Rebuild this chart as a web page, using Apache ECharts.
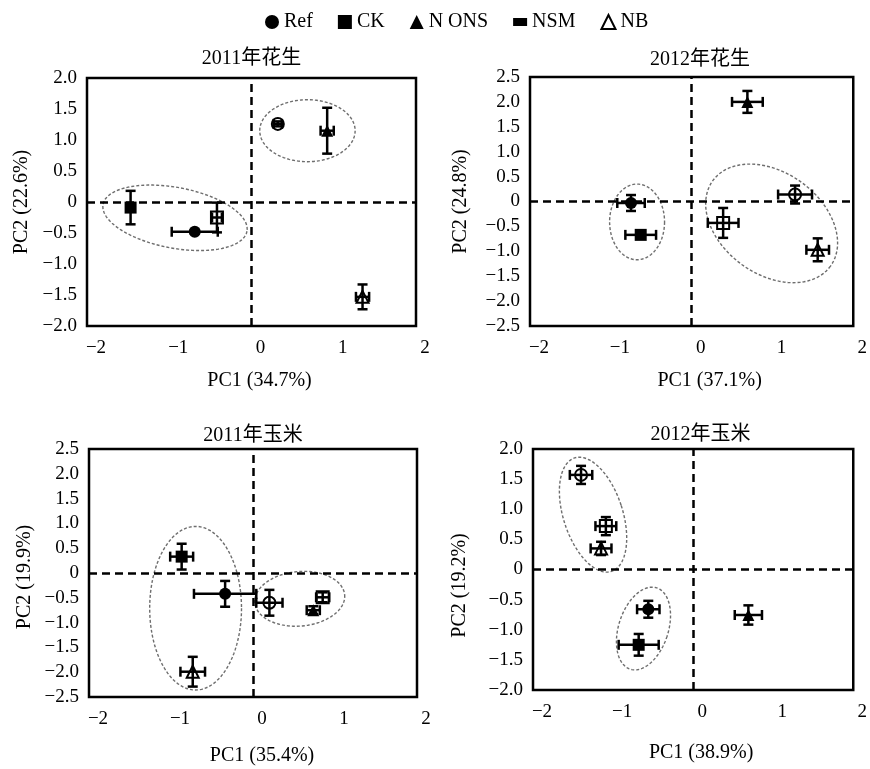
<!DOCTYPE html>
<html>
<head>
<meta charset="utf-8">
<script src="https://cdn.jsdelivr.net/npm/echarts@6/dist/echarts.min.js"></script>
<style>
  html, body { margin: 0; padding: 0; background: #fff; }
  #chart { width: 870px; height: 769px; }
</style>
</head>
<body>
<div id="chart"></div>
<script>
// Treatments, in series order
const treatments = ['Ref', 'CK', 'N ONS', 'NSM', 'NB', 'ONS'];
const legendNames = ['Ref', 'CK', 'N ONS', 'NSM', 'NB'];

// Panel titles and axis names
const panelTitles = ['2011年花生', '2012年花生', '2011年玉米', '2012年玉米'];
const pc1Names = ['PC1 (34.7%)', 'PC1 (37.1%)', 'PC1 (35.4%)', 'PC1 (38.9%)'];
const pc2Names = ['PC2 (22.6%)', 'PC2 (24.8%)', 'PC2 (19.9%)', 'PC2 (19.2%)'];

// Axis ranges
const xTicks = [-2, -1, 0, 1, 2];
const yMins = [-2.0, -2.5, -2.5, -2.0];
const yMaxs = [2.0, 2.5, 2.5, 2.0];

// 2011 peanut: scores (mean) and standard errors, treatment order as above
const peanut2011PC1 = [-0.69, -1.47, 0.92, -0.42, 1.35, 0.32];
const peanut2011PC2 = [-0.48, -0.09, 1.15, -0.25, -1.53, 1.26];
const peanut2011PC1Err = [0.28, 0.04, 0.08, 0.06, 0.08, 0.05];
const peanut2011PC2Err = [0.03, 0.27, 0.37, 0.24, 0.20, 0.04];

// 2012 peanut
const peanut2012PC1 = [-0.75, -0.63, 0.69, 0.39, 1.56, 1.28];
const peanut2012PC2 = [-0.03, -0.67, 2.00, -0.43, -0.97, 0.14];
const peanut2012PC1Err = [0.17, 0.19, 0.19, 0.19, 0.14, 0.21];
const peanut2012PC2Err = [0.16, 0.05, 0.22, 0.30, 0.23, 0.18];

// 2011 maize
const maize2011PC1 = [-0.34, -0.87, 0.735, 0.85, -0.735, 0.20];
const maize2011PC2 = [-0.42, 0.33, -0.75, -0.49, -1.99, -0.60];
const maize2011PC1Err = [0.38, 0.14, 0.08, 0.08, 0.15, 0.16];
const maize2011PC2Err = [0.26, 0.26, 0.08, 0.10, 0.30, 0.26];

// 2012 maize
const maize2012PC1 = [-0.56, -0.68, 0.69, -1.09, -1.15, -1.40];
const maize2012PC2 = [-0.66, -1.25, -0.755, 0.72, 0.35, 1.57];
const maize2012PC1Err = [0.14, 0.25, 0.17, 0.13, 0.13, 0.14];
const maize2012PC2Err = [0.14, 0.18, 0.16, 0.15, 0.11, 0.15];

// Cluster ellipses: [centre PC1, centre PC2, half-width (PC1 units), half-height (PC2 units), tilt in degrees]
const peanut2011Clusters = [[0.68, 1.15, 0.58, 0.50, 0], [-0.93, -0.255, 0.89, 0.49, 10.6]];
const peanut2012Clusters = [[-0.675, -0.41, 0.34, 0.76, 0], [0.99, -0.44, 0.90, 1.02, 36]];
const maize2011Clusters = [[-0.70, -0.71, 0.56, 1.65, 0], [0.57, -0.52, 0.55, 0.55, -5]];
const maize2012Clusters = [[-1.25, 0.91, 0.37, 0.99, -18], [-0.62, -0.98, 0.31, 0.71, 18]];

const panelPC1 = [peanut2011PC1, peanut2012PC1, maize2011PC1, maize2012PC1];
const panelPC2 = [peanut2011PC2, peanut2012PC2, maize2011PC2, maize2012PC2];
const panelPC1Err = [peanut2011PC1Err, peanut2012PC1Err, maize2011PC1Err, maize2012PC1Err];
const panelPC2Err = [peanut2011PC2Err, peanut2012PC2Err, maize2011PC2Err, maize2012PC2Err];
const panelClusters = [peanut2011Clusters, peanut2012Clusters, maize2011Clusters, maize2012Clusters];

// Layout
const grids = [
  { left: 87, top: 78, width: 329, height: 248 },
  { left: 530, top: 77, width: 326, height: 249 },
  { left: 89, top: 449, width: 328, height: 248 },
  { left: 533, top: 449, width: 325, height: 241 }
];
const titleCentreY = [59, 60, 436, 435];
const titleShiftX = [0, 7, 0, 5];
const xNameGaps = [45, 45, 49, 53];
const xNameShift = [8, 18, 9, 8];
const yNameGaps = [55, 59, 54, 63];
const yNameShift = [0, 0, 4, 16];

const FONT = "'Liberation Serif', 'Times New Roman', 'Noto Sans CJK SC', serif";

const markerStyle = {
  'Ref':   { symbol: 'circle',   fill: '#000' },
  'CK':    { symbol: 'rect',     fill: '#000' },
  'N ONS': { symbol: 'triangle', fill: '#000' },
  'NSM':   { symbol: 'rect',     fill: '#fff' },
  'NB':    { symbol: 'triangle', fill: '#fff' },
  'ONS':   { symbol: 'circle',   fill: '#fff' }
};

function fmtMinus(s) { return String(s).replace('-', '\u2212'); }

const chart = echarts.init(document.getElementById('chart'));

const xAxes = [], yAxes = [], series = [], graphics = [];

grids.forEach(function (g, p) {
  xAxes.push({
    type: 'value', gridIndex: p, min: xTicks[0], max: xTicks[xTicks.length - 1], interval: 1,
    axisLine: { show: false }, axisTick: { show: false }, splitLine: { show: false },
    axisLabel: {
      color: '#000', fontSize: 19, fontFamily: FONT, margin: 13,
      padding: [0, 0, 0, 18],
      formatter: function (v) { return fmtMinus(v); }
    },
    name: pc1Names[p], nameLocation: 'middle', nameGap: xNameGaps[p],
    nameTextStyle: { color: '#000', fontSize: 20, fontFamily: FONT, padding: [0, 0, 0, 2 * xNameShift[p]] }
  });
  yAxes.push({
    type: 'value', gridIndex: p, min: yMins[p], max: yMaxs[p], interval: 0.5,
    axisLine: { show: false }, axisTick: { show: false }, splitLine: { show: false },
    axisLabel: {
      color: '#000', fontSize: 19, fontFamily: FONT, margin: 10,
      formatter: function (v) { return v === 0 ? '0' : fmtMinus(v.toFixed(1)); }
    },
    name: pc2Names[p], nameLocation: 'middle', nameGap: yNameGaps[p], nameRotate: 90,
    nameTextStyle: { color: '#000', fontSize: 20, fontFamily: FONT, padding: [0, 2 * yNameShift[p], 0, 0] }
  });

  // Panel title
  graphics.push({
    type: 'text', x: g.left + g.width / 2 + titleShiftX[p], y: titleCentreY[p],
    style: { text: panelTitles[p], fill: '#000', font: '20px ' + FONT, textAlign: 'center', textVerticalAlign: 'middle' }
  });

  // Cluster ellipses
  series.push({
    type: 'custom', xAxisIndex: p, yAxisIndex: p, z: 1, silent: true,
    data: panelClusters[p],
    encode: { x: 0, y: 1 },
    renderItem: function (params, api) {
      const c = api.coord([api.value(0), api.value(1)]);
      const s = api.size([api.value(2), api.value(3)]);
      const a = api.value(4) * Math.PI / 180;
      const pts = [];
      for (let k = 0; k <= 96; k++) {
        const t = k / 96 * Math.PI * 2;
        const ex = s[0] * Math.cos(t), ey = s[1] * Math.sin(t);
        pts.push([c[0] + ex * Math.cos(a) - ey * Math.sin(a), c[1] + ex * Math.sin(a) + ey * Math.cos(a)]);
      }
      return {
        type: 'polyline', shape: { points: pts },
        style: { stroke: '#6e6e6e', lineWidth: 1.4, lineDash: [3, 2], fill: null }
      };
    }
  });

  // Markers
  treatments.forEach(function (name, i) {
    const m = markerStyle[name];
    const s = {
      type: 'scatter', name: name, xAxisIndex: p, yAxisIndex: p, z: 2,
      symbol: m.symbol, symbolSize: 12,
      itemStyle: { color: m.fill, borderColor: '#000', borderWidth: m.fill === '#fff' ? 2 : 0, opacity: 1 },
      data: [[panelPC1[p][i], panelPC2[p][i]]]
    };
    if (i === 0) {
      s.markLine = {
        silent: true, symbol: ['none', 'none'], animation: false,
        label: { show: false },
        lineStyle: { color: '#000', type: [8, 5], width: 2.5 },
        emphasis: { disabled: true },
        data: [{ xAxis: 0 }, { yAxis: 0 }]
      };
    }
    series.push(s);
  });

  // Error bars (both directions, with caps)
  const errData = treatments.map(function (n, i) {
    return [panelPC1[p][i], panelPC2[p][i], panelPC1Err[p][i], panelPC2Err[p][i]];
  });
  series.push({
    type: 'custom', xAxisIndex: p, yAxisIndex: p, z: 3, silent: true,
    data: errData, encode: { x: 0, y: 1 },
    renderItem: function (params, api) {
      const x = api.value(0), y = api.value(1), ex = api.value(2), ey = api.value(3);
      const cap = 5;
      const st = { stroke: '#000', lineWidth: 2.5 };
      const kids = [];
      const l = api.coord([x - ex, y]), r = api.coord([x + ex, y]);
      kids.push({ type: 'line', shape: { x1: l[0], y1: l[1], x2: r[0], y2: r[1] }, style: st });
      kids.push({ type: 'line', shape: { x1: l[0], y1: l[1] - cap, x2: l[0], y2: l[1] + cap }, style: st });
      kids.push({ type: 'line', shape: { x1: r[0], y1: r[1] - cap, x2: r[0], y2: r[1] + cap }, style: st });
      const t = api.coord([x, y + ey]), b = api.coord([x, y - ey]);
      kids.push({ type: 'line', shape: { x1: t[0], y1: t[1], x2: b[0], y2: b[1] }, style: st });
      kids.push({ type: 'line', shape: { x1: t[0] - cap, y1: t[1], x2: t[0] + cap, y2: t[1] }, style: st });
      kids.push({ type: 'line', shape: { x1: b[0] - cap, y1: b[1], x2: b[0] + cap, y2: b[1] }, style: st });
      return { type: 'group', children: kids };
    }
  });
});

chart.setOption({
  animation: false,
  backgroundColor: '#fff',
  textStyle: { fontFamily: FONT },
  legend: {
    left: 260, top: 7, itemWidth: 14, itemHeight: 14, itemGap: 25, selectedMode: false,
    textStyle: { color: '#000', fontSize: 20, fontFamily: FONT },
    data: [
      { name: 'Ref', icon: 'circle' },
      { name: 'CK', icon: 'rect' },
      { name: 'N ONS', icon: 'triangle' },
      { name: 'NSM', icon: 'path://M0,0L0.01,0M0,3H14V11H0ZM14,14L14.01,14', itemStyle: { color: '#000', borderWidth: 0 } },
      { name: 'NB', icon: 'triangle' }
    ]
  },
  grid: grids.map(function (g) {
    return Object.assign({ show: true, borderColor: '#000', borderWidth: 2.5, backgroundColor: 'transparent', containLabel: false }, g);
  }),
  xAxis: xAxes,
  yAxis: yAxes,
  graphic: graphics,
  series: series
});
</script>
</body>
</html>
